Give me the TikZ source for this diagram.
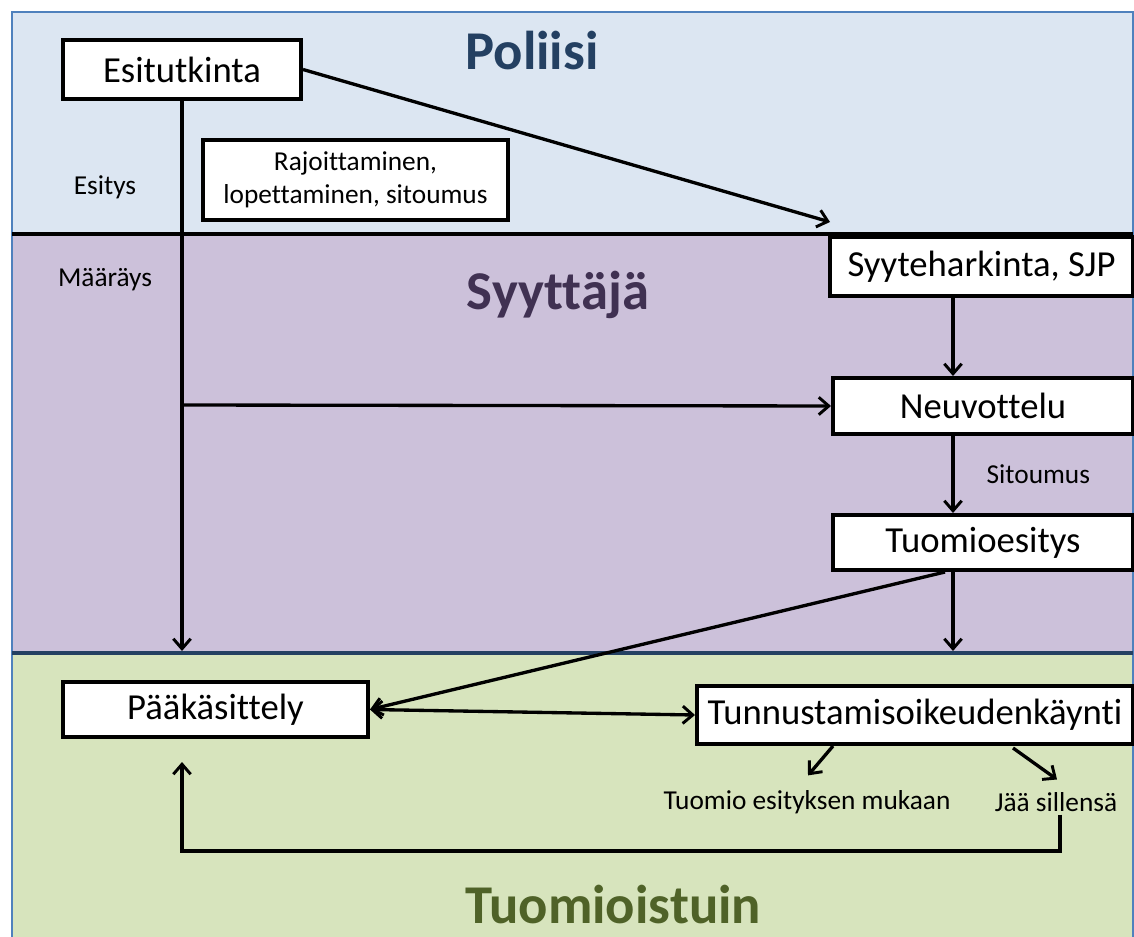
\documentclass[tikz,border=0pt]{standalone}
\usepackage{fontspec}
\setmainfont{Carlito}[Ligatures=NoCommon]
\usepackage{tikz}
\usetikzlibrary{arrows.meta}
\usetikzlibrary{calc}
\usetikzlibrary{positioning}

\begin{document}
\begin{tikzpicture}[x=0.75pt, y=-0.75pt,
				every text node part/.style={align=center},
				block/.style={rectangle, draw=black, fill=white, inner sep=0pt, line width=3pt, font=\fontsize{27.5}{32}\selectfont},
				lbl/.style={inner sep=2pt, font=\fontsize{20.5}{25}\selectfont},
				title/.style={anchor=base, font=\fontsize{41}{46}\selectfont\bfseries},
				arrow/.style={-{Straight Barb[length=7.5pt, width=13pt, line width=2.2pt]}, line width=2.5pt},
				twoway/.style={{Straight Barb[length=7.5pt, width=13pt, line width=2.2pt]}-{Straight Barb[length=7.5pt, width=13pt, line width=2.2pt]}, line width=2.5pt}]

					\definecolor{poli}{RGB}{220,230,242}
					\definecolor{syyt}{RGB}{204,193,218}
					\definecolor{tuom}{RGB}{215,228,189}
					\definecolor{polit}{RGB}{36,64,98}
					\definecolor{syytt}{RGB}{64,49,82}
					\definecolor{tuomt}{RGB}{79,98,40}
					\definecolor{frame}{RGB}{79,129,189}

					\useasboundingbox (0,0) rectangle (1134,937);

					% taustat
					\fill[poli] (12,12) rectangle (1133,234);
					\fill[syyt] (12,234) rectangle (1133,653);
					\fill[tuom] (12,653) rectangle (1133,940);
					\draw[frame, line width=1.5pt] (12,940) -- (12,12) -- (1133,12) -- (1133,940);
					\draw[black, line width=3.2pt] (12,234) -- (1133,234);
					\draw[polit, line width=2.8pt] (12,653) -- (1133,653);

					\node[title, text=polit] (poliisi) at (532,70) {Poliisi};
					\node[title, text=syytt] (syyttaja) at (558,310) {Syyttäjä};
					\node[title, text=tuomt] (tuomioistuin) at (613,923) {Tuomioistuin};

					\node[block, minimum width=178.5pt, minimum height=44.25pt] (esitutkinta) at (182,69.5) {Esitutkinta};
					\node[block, minimum width=228.75pt, minimum height=60pt, font=\fontsize{20.5}{24.5}\selectfont] (rajoitus) at (355.5,180) {Rajoittaminen,\\ lopettaminen, sitoumus};
					\node[block, minimum width=227.25pt, minimum height=44.25pt] (syyte) at (981.5,266.5) {Syyteharkinta, SJP};
					\node[block, minimum width=225pt, minimum height=42pt] (neuvottelu) at (983,406) {Neuvottelu};
					\node[block, minimum width=225pt, minimum height=41.25pt] (tuomioesitys) at (983,542.5) {Tuomioesitys};
					\node[block, minimum width=228.75pt, minimum height=41.25pt] (paakasittely) at (215.5,709.5) {Pääkäsittely};
					\node[block, minimum width=327pt, minimum height=43.5pt] (tunnustus) at (915,715) {Tunnustamisoikeudenkäynti};

					\node[lbl] (esitys) at (105,187) {Esitys};
					\node[lbl] (maarays) at (105,280) {Määräys};
					\node[lbl] (mukaan) at (807,802) {Tuomio esityksen mukaan};
					\node[lbl] (sillensa) at (1056,802) {Jää sillensä};

					\coordinate (pysty) at (953,0);
					\coordinate (haara) at (182,405);
					\coordinate (paa raja) at (182,651);
					\coordinate (syyte raja) at (830,222);
					\coordinate (tuomio raja) at (953,651);
					\coordinate (paluu) at (1060,851);

					\draw[line width=2.5pt] (esitutkinta.south) -- (haara);
					\draw[arrow] (haara) -- (paa raja);
					\draw[arrow] (haara) -- (neuvottelu.west);
					\draw[arrow] (esitutkinta.east) -- (syyte raja);
					\draw[arrow] (syyte.south -| pysty) -- (neuvottelu.north -| pysty);
					\draw[arrow] (neuvottelu.south -| pysty) -- node[lbl, right=22pt] {Sitoumus} (tuomioesitys.north -| pysty);
					\draw[arrow] (tuomioesitys.south -| pysty) -- (tuomio raja);
					\draw[arrow] ($(tuomioesitys.south -| pysty) + (-8,0)$) -- (paakasittely.east);
					\draw[twoway] (paakasittely.east) -- (tunnustus.west);
					\draw[arrow] ($(tunnustus.south) + (-82,0)$) -- ($(mukaan.north) + (1,-12)$);
					\draw[arrow] ($(tunnustus.south) + (98,2)$) -- ($(sillensa.north) + (1,-10)$);
					\draw[arrow] (sillensa.south -| paluu) -- (paluu) -| ($(paakasittely.south -| esitutkinta.south) + (0,23)$);
				\end{tikzpicture}
\end{document}
